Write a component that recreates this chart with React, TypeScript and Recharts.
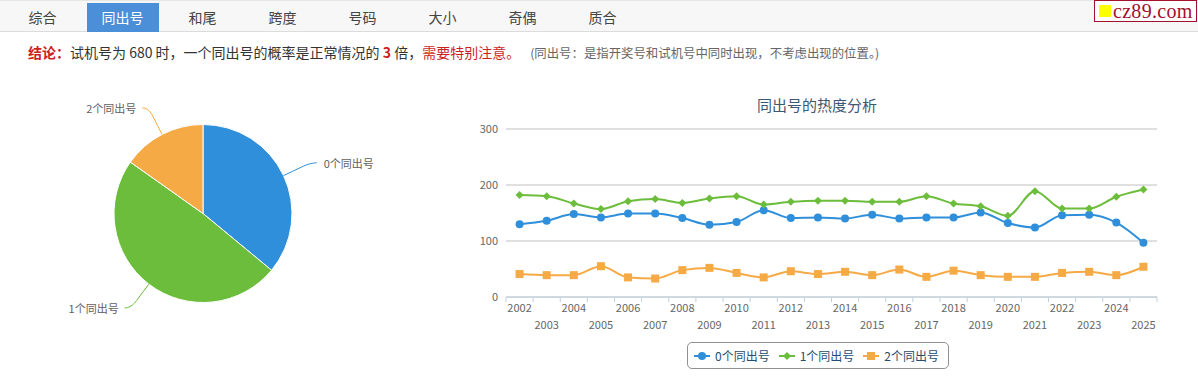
import type { ReactNode } from "react";
import {
  CartesianGrid,
  Cell,
  Legend,
  Line,
  LineChart,
  Pie,
  PieChart,
  XAxis,
  YAxis,
} from "recharts";

const TABS = ["综合", "同出号", "和尾", "跨度", "号码", "大小", "奇偶", "质合"];
const ACTIVE_TAB = 1;

const YEARS = [
  "2002", "2003", "2004", "2005", "2006", "2007", "2008", "2009", "2010", "2011", "2012", "2013",
  "2014", "2015", "2016", "2017", "2018", "2019", "2020", "2021", "2022", "2023", "2024", "2025",
];
const ZERO = [130, 136, 148, 142, 149, 149, 141, 129, 134, 155, 141, 142, 140, 147, 140, 142, 142, 151, 132, 124, 146, 147, 133, 97];
const ONE = [182, 180, 167, 157, 171, 175, 168, 176, 180, 165, 170, 172, 172, 170, 170, 180, 167, 162, 145, 189, 158, 158, 179, 192];
const TWO = [41, 39, 39, 55, 35, 33, 48, 52, 43, 35, 46, 41, 45, 39, 49, 36, 47, 39, 36, 36, 43, 45, 39, 54];
const Y_TICKS = [0, 100, 200, 300];

const SERIES_NAMES = ["0个同出号", "1个同出号", "2个同出号"];
const PIE_SHARE = [36.0, 48.8, 15.2];

const BLUE = "#2f8fdb";
const GREEN = "#6bbd3b";
const ORANGE = "#f6aa45";
const COLORS = [BLUE, GREEN, ORANGE];
const AXIS = "#c0d0e0";
const FONT = '"Noto Sans CJK SC", "Noto Sans", sans-serif';

const CHART_W = 720;
const MARGIN = { top: 39, right: 23, left: 6, bottom: 43 };
const Y_AXIS_W = 40;
const PLOT_W = CHART_W - MARGIN.left - MARGIN.right - Y_AXIS_W;
const BAND = PLOT_W / YEARS.length;

const lineData = YEARS.map((year, i) => ({ year, zero: ZERO[i], one: ONE[i], two: TWO[i] }));
const pieData = SERIES_NAMES.map((name, i) => ({ name, value: PIE_SHARE[i] }));

const RADIAN = Math.PI / 180;

function renderPieLabel(p: any) {
  const { cx, cy, midAngle, outerRadius, index } = p;
  const a = -midAngle * RADIAN;
  const cos = Math.cos(a);
  const sin = Math.sin(a);
  const ex = cx + outerRadius * cos;
  const ey = cy + outerRadius * sin;
  const bx = cx + (outerRadius + 10) * cos;
  const by = cy + (outerRadius + 10) * sin;
  const right = cos >= 0;
  const ly = cy + (outerRadius + 30) * sin;
  const lx = cx + (outerRadius + 30) * cos + (right ? 6 : -6);
  const tx = lx + (right ? 7 : -6);
  const color = COLORS[index % COLORS.length];
  return (
    <g key={`lbl-${index}`}>
      <path
        d={`M ${lx} ${ly} C ${lx + (right ? -8 : 8)} ${ly} ${2 * bx - ex} ${2 * by - ey} ${bx} ${by} L ${ex} ${ey}`}
        stroke={color}
        fill="none"
        strokeWidth={1}
      />
      <text
        x={tx}
        y={ly}
        textAnchor={right ? "start" : "end"}
        dominantBaseline="central"
        fill="#606060"
        fontSize={11}
        fontFamily={FONT}
      >
        {SERIES_NAMES[index]}
      </text>
    </g>
  );
}

function YearTick(p: any) {
  const { x, y, payload } = p;
  const i = payload.index;
  const odd = i % 2 === 1;
  return (
    <g>
      <line x1={x - BAND / 2} x2={x - BAND / 2} y1={y} y2={y + 5} stroke={AXIS} />
      {i === YEARS.length - 1 && <line x1={x + BAND / 2} x2={x + BAND / 2} y1={y} y2={y + 5} stroke={AXIS} />}
      <text
        x={x}
        y={y + (odd ? 27 : 10)}
        textAnchor="middle"
        dominantBaseline="central"
        fill="#666"
        fontSize={11}
        fontFamily={FONT}
      >
        {payload.value}
      </text>
    </g>
  );
}

function marker(kind: number, x: number, y: number, color: string): ReactNode {
  if (kind === 0) return <circle cx={x} cy={y} r={4} fill={color} />;
  if (kind === 1)
    return <polygon points={`${x},${y - 4} ${x + 4},${y} ${x},${y + 4} ${x - 4},${y}`} fill={color} />;
  return <rect x={x - 4} y={y - 4} width={8} height={8} fill={color} />;
}

function makeDot(kind: number, color: string) {
  return (p: any) => <g key={`d-${kind}-${p.index}`}>{marker(kind, p.cx, p.cy, color)}</g>;
}

function LegendBox() {
  return (
    <div
      style={{
        boxSizing: "border-box",
        width: 262,
        height: 27,
        border: "1px solid #909090",
        borderRadius: 5,
        display: "flex",
        alignItems: "center",
        paddingLeft: 6,
        fontFamily: FONT,
        fontSize: 12,
        color: "#274b6d",
        background: "#fff",
      }}
    >
      {SERIES_NAMES.map((name, i) => (
        <div key={name} style={{ display: "flex", alignItems: "center", marginRight: 9 }}>
          <svg width={16} height={12} style={{ marginRight: 5 }}>
            <line x1={0} x2={16} y1={6} y2={6} stroke={COLORS[i]} strokeWidth={2} />
            {marker(i, 8, 6, COLORS[i])}
          </svg>
          <span>{name}</span>
        </div>
      ))}
    </div>
  );
}

export default function App() {
  return (
    <div
      style={{
        position: "absolute",
        left: 0,
        top: 0,
        width: 1198,
        height: 383,
        background: "#fff",
        fontFamily: FONT,
        overflow: "hidden",
      }}
    >
      {/* tab bar */}
      <div
        style={{
          position: "absolute",
          left: 0,
          top: 0,
          width: 1198,
          height: 32,
          background: "#f7f7f7",
          borderTop: "1px solid #e6e6e6",
          borderBottom: "1px solid #dcdcdc",
          boxSizing: "border-box",
        }}
      />
      {TABS.map((t, i) => {
        const active = i === ACTIVE_TAB;
        return (
          <div
            key={t}
            style={{
              position: "absolute",
              left: 42.5 + 80 * i - 36,
              top: 3,
              width: 72,
              height: 29,
              lineHeight: "29px",
              textAlign: "center",
              fontSize: 14,
              color: active ? "#fff" : "#444",
              background: active ? "#4a8fd8" : "transparent",
            }}
          >
            {t}
          </div>
        );
      })}
      <div
        style={{
          position: "absolute",
          left: 1094,
          top: 0,
          width: 103,
          height: 22,
          boxSizing: "border-box",
          border: "1px solid #a3102c",
          background: "#fff",
          display: "flex",
          alignItems: "center",
        }}
      >
        <div style={{ width: 12, height: 12, background: "#ffff00", marginLeft: 4, marginRight: 2 }} />
        <span
          style={{
            fontFamily: '"Liberation Serif", serif',
            fontSize: 20,
            lineHeight: "20px",
            color: "#a3102c",
            letterSpacing: 0.3,
          }}
        >
          cz89.com
        </span>
      </div>

      {/* conclusion */}
      <div
        style={{
          position: "absolute",
          left: 28,
          top: 42,
          lineHeight: "20px",
          fontSize: 14,
          color: "#333",
          whiteSpace: "nowrap",
        }}
      >
        <span style={{ color: "#cc1f1f", fontWeight: "bold" }}>结论：</span>
        试机号为 680 时，一个同出号的概率是正常情况的{" "}
        <span style={{ color: "#cc1f1f", fontWeight: "bold" }}>3</span> 倍，
        <span style={{ color: "#cc1f1f" }}>需要特别注意。</span>
        <span style={{ fontSize: 12.4, color: "#666", marginLeft: 10 }}>
          (同出号：是指开奖号和试机号中同时出现，不考虑出现的位置。)
        </span>
      </div>

      {/* pie */}
      <div style={{ position: "absolute", left: 0, top: 80 }}>
        <PieChart width={440} height={270}>
          <Pie
            data={pieData}
            dataKey="value"
            nameKey="name"
            cx={198}
            cy={128.5}
            outerRadius={89}
            startAngle={90}
            endAngle={-270}
            stroke="#fff"
            strokeWidth={1}
            label={renderPieLabel}
            labelLine={false}
            isAnimationActive={false}
          >
            {pieData.map((_, i) => (
              <Cell key={i} fill={COLORS[i]} />
            ))}
          </Pie>
        </PieChart>
      </div>

      {/* line chart */}
      <div
        style={{
          position: "absolute",
          left: 717,
          top: 95,
          width: 200,
          textAlign: "center",
          fontSize: 15,
          lineHeight: "20px",
          color: "#3e576f",
        }}
      >
        同出号的热度分析
      </div>
      <div style={{ position: "absolute", left: 460, top: 90 }}>
        <LineChart width={CHART_W} height={290} data={lineData} margin={MARGIN}>
          <CartesianGrid stroke="#c0c0c0" vertical={false} />
          <XAxis
            dataKey="year"
            scale="band"
            interval={0}
            height={40}
            tickLine={false}
            tickSize={0}
            tickMargin={0}
            axisLine={{ stroke: AXIS }}
            tick={<YearTick />}
          />
          <YAxis
            width={Y_AXIS_W}
            domain={[0, 300]}
            ticks={Y_TICKS}
            axisLine={false}
            tickLine={false}
            tick={{ fill: "#666", fontSize: 11, fontFamily: FONT }}
          />
          <Legend
            verticalAlign="middle"
            align="center"
            layout="horizontal"
            wrapperStyle={{ top: 252, left: 227, width: 262, height: 27 }}
            content={() => <LegendBox />}
          />
          <Line type="monotone" dataKey="zero" name={SERIES_NAMES[0]} stroke={BLUE} strokeWidth={2} dot={makeDot(0, BLUE)} activeDot={false} isAnimationActive={false} />
          <Line type="monotone" dataKey="one" name={SERIES_NAMES[1]} stroke={GREEN} strokeWidth={2} dot={makeDot(1, GREEN)} activeDot={false} isAnimationActive={false} />
          <Line type="monotone" dataKey="two" name={SERIES_NAMES[2]} stroke={ORANGE} strokeWidth={2} dot={makeDot(2, ORANGE)} activeDot={false} isAnimationActive={false} />
        </LineChart>
      </div>
    </div>
  );
}
